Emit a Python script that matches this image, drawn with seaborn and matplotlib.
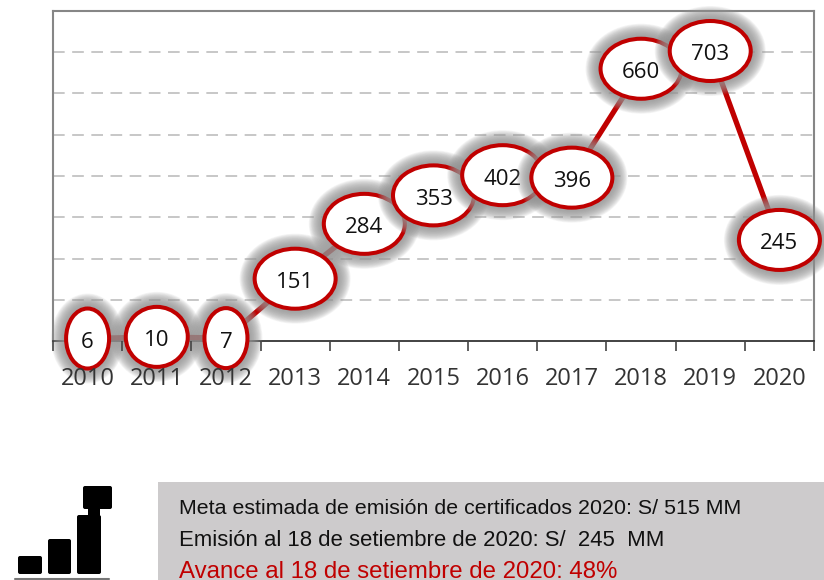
"""Emision de certificados 2010-2020: labelled line with a note panel."""

import matplotlib.pyplot as plt
import numpy as np
import pandas as pd
import seaborn as sns
from matplotlib.patches import Ellipse, FancyBboxPatch, Rectangle

YEARS = ["2010", "2011", "2012", "2013", "2014", "2015", "2016", "2017", "2018", "2019", "2020"]
VALUES = [6, 10, 7, 151, 284, 353, 402, 396, 660, 703, 245]
NOTE_LINES = [
    "Meta estimada de emisión de certificados 2020: S/ 515 MM",
    "Emisión al 18 de setiembre de 2020: S/  245  MM",
    "Avance al 18 de setiembre de 2020: 48%",
]
NOTE_COLORS = ["#111111", "#111111", "#c00000"]
NOTE_SIZES = [15.4, 15.95, 17.3]

RED = "#c00000"
W, H = 824, 580
LEFT, RIGHT, TOP, BOTTOM = 53, 814, 11, 341

sns.set_theme(style="white")
plt.rcParams["font.family"] = ["Open Sans", "DejaVu Sans"]

fig = plt.figure(figsize=(W / 100, H / 100), dpi=100)
ax = fig.add_axes([LEFT / W, 1 - BOTTOM / H, (RIGHT - LEFT) / W, (BOTTOM - TOP) / H])

df = pd.DataFrame({"year": YEARS, "value": VALUES})
sns.lineplot(data=df, x="year", y="value", color=RED, linewidth=3.8, sort=False, ax=ax, zorder=3)

ax.set_xlim(-0.5, 10.5)
ax.set_ylim(0, 800)
ax.set_xlabel("")
ax.set_ylabel("")
ax.set_yticks(np.arange(100, 800, 100))
ax.set_yticklabels([])
ax.set_xticks(np.arange(-0.5, 11), minor=True)
ax.grid(axis="y", color="#bdbdbd", linewidth=1.2, linestyle=(0, (7, 4.5)))
ax.tick_params(axis="x", which="major", length=0, pad=18.5, labelsize=17, labelcolor="#333333")
ax.tick_params(axis="x", which="minor", length=7, width=1.2, color="#444444", bottom=True)
ax.tick_params(axis="y", length=0)
ax.xaxis.set_zorder(30)  # year labels stay crisp on top of the shadows
for side in ["left", "top", "right"]:
    ax.spines[side].set_color("#868686")
    ax.spines[side].set_linewidth(1.5)
ax.spines["bottom"].set_color("#222222")
ax.spines["bottom"].set_linewidth(1.2)

# px -> data scale, ellipses are sized in pixels
sx = (RIGHT - LEFT) / 11
sy = (BOTTOM - TOP) / 800
for i, (year, val) in enumerate(zip(YEARS, VALUES)):
    label = str(val)
    w_px = {1: 43, 2: 62}.get(len(label), 81)
    h_px = 60
    z = 5 + i
    # soft shadow
    for grow in np.linspace(30, 0, 22):
        ax.add_patch(Ellipse((i, val), (w_px + grow) / sx, (h_px + grow) / sy, facecolor="#959595",
                             edgecolor="none", alpha=0.09, zorder=z, clip_on=False))
    ax.add_patch(Ellipse((i, val), w_px / sx, h_px / sy, facecolor="white", edgecolor=RED,
                         linewidth=2.9, zorder=z, clip_on=False))
    ax.annotate(label, (i, val), xytext=(0, -1), textcoords="offset points", ha="center",
                va="center_baseline", fontsize=16, color="#111111", zorder=z)

# overlay in pixel coordinates for the note panel and the icon
ov = fig.add_axes([0, 0, 1, 1], zorder=-1)
ov.set_xlim(0, W)
ov.set_ylim(H, 0)
ov.axis("off")
ov.add_patch(Rectangle((158, 482), W - 158, H - 482, facecolor="#cdcbcc", edgecolor="none"))
for text, color, size, y in zip(NOTE_LINES, NOTE_COLORS, NOTE_SIZES, [508, 540, 572]):
    ov.text(179, y, text, color=color, fontsize=size, family="Liberation Sans", ha="left", va="center")

for x0, y0, w, h in [(18, 556, 24, 18), (48, 539, 23, 35), (77, 515, 24, 59), (83, 486, 29, 23), (88, 505, 12, 12)]:
    ov.add_patch(FancyBboxPatch((x0 + 2, y0 + 2), w - 4, h - 4, boxstyle="round,pad=2", facecolor="black",
                                edgecolor="none"))
ov.plot([15, 109], [579, 579], color="#777777", linewidth=1.5)

fig.savefig("out.png", dpi=100)
